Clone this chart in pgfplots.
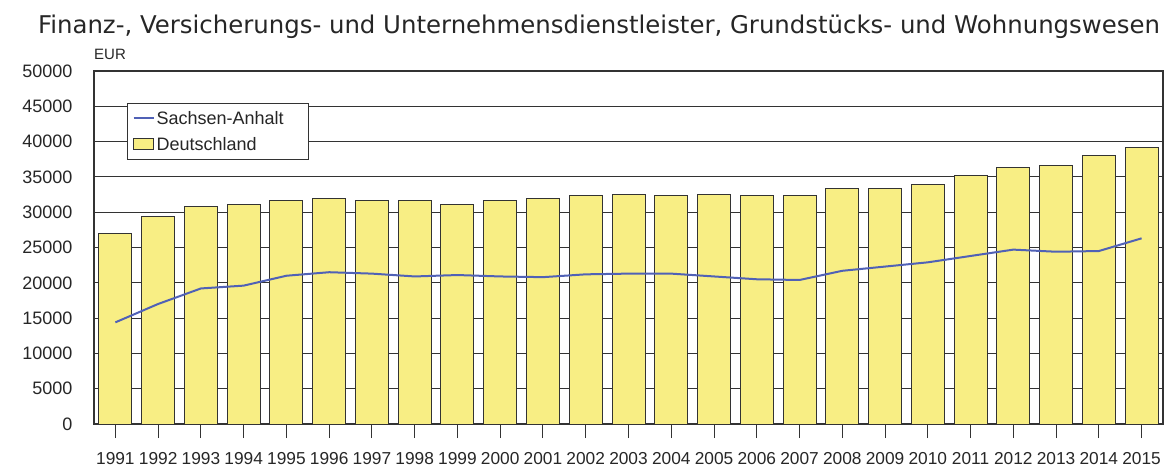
\documentclass[border=0pt]{standalone}
\usepackage{pgfplots}
\pgfplotsset{compat=1.18}
\usepackage{fontspec}
\setmainfont{Liberation Sans}
\newfontfamily\titlefont{DejaVu Sans}
\definecolor{baryellow}{HTML}{F8EE84}
\definecolor{lineblue}{HTML}{5061B6}
\definecolor{gridc}{HTML}{333333}
\pgfplotsset{
  mybarleg/.style={legend image code/.code={\draw[##1, line width=1pt] (0pt,-5pt) rectangle (20pt,6pt);}},
  mylineleg/.style={legend image code/.code={\draw[##1] (0pt,0pt) -- (20pt,0pt);}},
}
\begin{document}
\begin{tikzpicture}
\path[use as bounding box] (-94pt,-43pt) rectangle (1074pt,424pt);
\begin{axis}[
  at={(0pt,0pt)}, anchor=south west,
  scale only axis, width=1069pt, height=353pt,
  xmin=-0.5, xmax=24.5, ymin=0, ymax=50000,
  xtick={0,...,24},
  xticklabels={1991,1992,1993,1994,1995,1996,1997,1998,1999,2000,2001,2002,2003,2004,2005,2006,2007,2008,2009,2010,2011,2012,2013,2014,2015},
  ytick={0,5000,...,50000},
  scaled y ticks=false,
  /pgf/number format/1000 sep={},
  /pgf/number format/assume math mode=true,
  tick label style={text=black!85},
  yticklabel style={xshift=-18pt, font=\fontsize{18}{20}\selectfont},
  xticklabel style={yshift=-11pt, font=\fontsize{17.3}{20}\selectfont},
  xtick align=outside, xtick pos=bottom,
  major tick length=14pt,
  ytick style={draw=none},
  xtick style={gridc, line width=1pt},
  ymajorgrids, grid style={gridc, line width=1pt},
  axis line style={gridc, line width=1.2pt},
  reverse legend,
  legend style={at={(rel axis cs:0.031,0.909)}, anchor=north west, draw=gridc, line width=1pt, fill=white,
    font=\fontsize{18}{21}\selectfont, inner xsep=5pt, inner ysep=5.5pt, row sep=8pt, text=black!85},
  legend cell align=left,
]
\addplot[ybar, bar width=33pt, fill=baryellow, draw=gridc, line width=1pt, mybarleg]
  coordinates {
  (0,27000) (1,29400) (2,30800) (3,31100) (4,31600) (5,31900) (6,31600) (7,31600) (8,31100) (9,31600)
  (10,31900) (11,32400) (12,32500) (13,32300) (14,32500) (15,32300) (16,32300) (17,33300) (18,33300)
  (19,33900) (20,35200) (21,36300) (22,36600) (23,38000) (24,39100)};
\addlegendentry{Deutschland}
\addplot[lineblue, line width=2pt, mark=none, mylineleg]
  coordinates {
  (0,14400) (1,17000) (2,19200) (3,19600) (4,21000) (5,21500) (6,21300) (7,20900) (8,21100) (9,20900)
  (10,20800) (11,21200) (12,21300) (13,21300) (14,20900) (15,20500) (16,20400) (17,21700) (18,22300)
  (19,22900) (20,23800) (21,24700) (22,24400) (23,24500) (24,26300)};
\addlegendentry{Sachsen-Anhalt\rule{18pt}{0pt}}
\end{axis}
\node[anchor=base, font=\titlefont\fontsize{24.4}{28}\selectfont, text=black!85] at (505pt,390pt)
  {Finanz-, Versicherungs- und Unternehmensdienstleister, Grundstücks- und Wohnungswesen};
\node[anchor=base west, inner sep=0pt, font=\fontsize{15}{17}\selectfont, text=black!85] at (0pt,364pt) {EUR};
\end{tikzpicture}
\end{document}
